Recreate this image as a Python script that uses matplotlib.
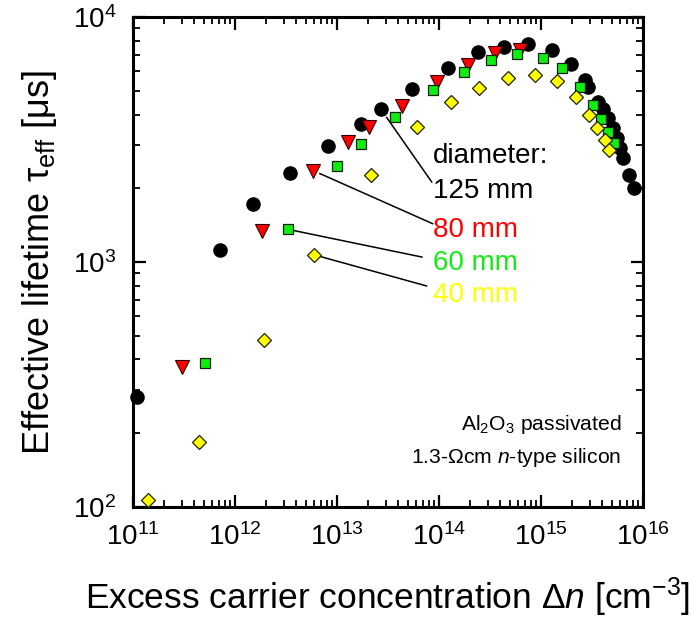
import matplotlib
matplotlib.use("Agg")
import matplotlib.pyplot as plt
from matplotlib.ticker import LogLocator, NullFormatter

plt.rcParams["font.family"] = ["Liberation Sans", "DejaVu Sans"]
plt.rcParams["mathtext.fontset"] = "custom"
plt.rcParams["mathtext.rm"] = "Liberation Sans"
plt.rcParams["mathtext.it"] = "Liberation Sans:italic"
plt.rcParams["mathtext.bf"] = "Liberation Sans:bold"

# Injection-dependent lifetime for four wafer diameters
n_125 = [1.1e11, 7.2e11, 1.5e12, 3.5e12, 8.2e12, 1.72e13, 2.7e13, 5.5e13,
         1.23e14, 2.4e14, 4.3e14, 7.5e14, 1.28e15, 1.97e15, 2.7e15, 2.9e15,
         3.6e15, 4.05e15, 4.54e15, 5.08e15, 5.56e15, 5.95e15, 6.37e15,
         7.3e15, 8.2e15]
tau_125 = [281, 1120, 1726, 2300, 2970, 3655, 4200, 5070, 6210, 7180, 7570,
           7740, 7330, 6420, 5530, 5180, 4500, 4210, 3870, 3520, 3210, 2920,
           2660, 2265, 2005]

n_80 = [3.0e11, 1.83e12, 5.86e12, 1.29e13, 2.08e13, 4.3e13, 9.6e13, 1.91e14,
        3.54e14, 6.2e14]
tau_80 = [374, 1340, 2360, 3100, 3565, 4335, 5450, 6370, 7110, 7330]

n_60 = [5.1e11, 3.29e12, 9.9e12, 1.71e13, 3.7e13, 8.8e13, 1.76e14, 3.2e14,
        5.86e14, 1.04e15, 1.6e15, 2.41e15, 3.26e15, 3.87e15, 4.51e15, 5.24e15]
tau_60 = [388, 1360, 2465, 3035, 3920, 5035, 5985, 6670, 7050, 6820, 6170,
          5200, 4375, 3835, 3405, 3070]

n_40 = [1.41e11, 4.43e11, 1.92e12, 5.96e12, 2.15e13, 6.1e13, 1.31e14,
        2.48e14, 4.71e14, 8.7e14, 1.43e15, 2.2e15, 2.98e15, 3.57e15, 4.24e15,
        4.64e15]
tau_40 = [107, 185, 481, 1070, 2265, 3548, 4510, 5140, 5650, 5800, 5480,
          4700, 3980, 3515, 3150, 2865]

labels = ["125 mm", "80 mm", "60 mm", "40 mm"]
label_colors = ["black", "#FF0000", "#10EE10", "#FFFF00"]

fig = plt.figure(figsize=(6.94, 6.21), dpi=100)
ax = fig.add_axes([0.1916, 0.1836, 0.7349, 0.7890])

ax.plot(n_125, tau_125, "o", ms=10.5, color="black", mec="black", mew=0,
        clip_on=False, zorder=3)
ax.plot(n_80, tau_80, "v", ms=9.5, mfc="#FF0000", mec="#300000", mew=0.8,
        zorder=4)
ax.plot(n_60, tau_60, "s", ms=7.8, mfc="#10EE10", mec="#102010", mew=0.9,
        zorder=5)
ax.plot(n_40, tau_40, "D", ms=7.0, mfc="#FFFF00", mec="#202000", mew=0.9,
        zorder=6)

ax.set_xscale("log")
ax.set_yscale("log")
ax.set_xlim(1e11, 1e16)
ax.set_ylim(1e2, 1e4)

for axis in (ax.xaxis, ax.yaxis):
    axis.set_major_locator(LogLocator(base=10, numticks=10))
    axis.set_minor_locator(LogLocator(base=10, subs=range(2, 10), numticks=20))
    axis.set_minor_formatter(NullFormatter())

ax.tick_params(which="both", direction="in", top=True, right=True,
               labelsize=20)
ax.tick_params(which="major", length=9, width=1.6, pad=12)
ax.tick_params(which="minor", length=5, width=1.3)
for sp in ax.spines.values():
    sp.set_linewidth(2.2)

ax.set_xlabel("Excess carrier concentration \u0394$n$ [cm$^{-3}$]",
              fontsize=25.5, labelpad=17)
ax.set_ylabel("Effective lifetime \u03c4$_\\mathrm{eff}$ [\u03bcs]",
              fontsize=26, labelpad=10)

# leader lines from one point of each series to its label
anchors = [(n_125[6], tau_125[6], 0.586, 0.663, 7),
           (n_80[2], tau_80[2], 0.588, 0.578, 5),
           (n_60[1], tau_60[1], 0.567, 0.510, 5),
           (n_40[3], tau_40[3], 0.576, 0.451, 5)]
for xd, yd, fx, fy, gap in anchors:
    ax.annotate("", xy=(xd, yd), xycoords="data", xytext=(fx, fy),
                textcoords="axes fraction",
                arrowprops=dict(arrowstyle="-", color="black", lw=1.1,
                                shrinkA=0, shrinkB=gap), zorder=2)

ax.text(0.588, 0.702, "diameter:", transform=ax.transAxes, fontsize=20,
        va="baseline", ha="left")
for lab, col, yf in zip(labels, label_colors, [0.631, 0.551, 0.484, 0.418]):
    ax.text(0.588, yf, lab, color=col, transform=ax.transAxes, fontsize=20,
            va="baseline", ha="left")

ax.text(0.958, 0.157, "Al$_2$O$_3$ passivated", transform=ax.transAxes,
        fontsize=15.2, ha="right", va="baseline")
ax.text(0.958, 0.090, "1.3-\u03a9cm $n$-type silicon", transform=ax.transAxes,
        fontsize=15.2, ha="right", va="baseline")

fig.savefig("out.png", dpi=100)
